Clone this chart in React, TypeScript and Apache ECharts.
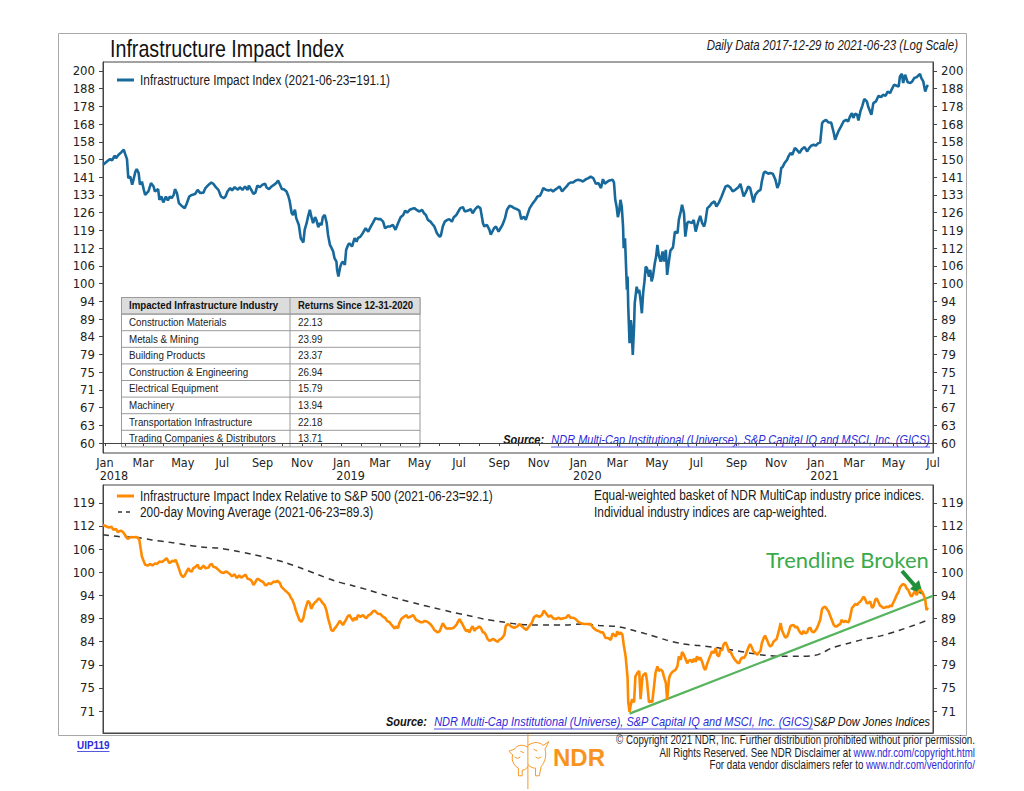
import React, { useEffect, useRef } from "react";
import * as echarts from "echarts";

// ---------- DATA ----------
const START_DATE = [2017, 11, 29]; // first data day (2017-12-29)
const END_DATE = [2021, 6, 1]; // axis end (2021-07-01)

// Infrastructure Impact Index (daily, sampled), day offsets from START_DATE
const TOP_DAYS = [0,8,11,14,18,20,24,28,32,34,37,39,42,45,47,50,52,55,57,60,63,65,70,74,78,80,85,87,90,93,97,100,103,106,109,111,114,117,121,126,129,133,137,142,146,150,155,158,163,167,170,174,178,182,186,189,192,196,199,203,208,211,215,219,223,225,228,232,235,238,242,246,250,252,256,260,264,268,270,273,276,279,283,286,288,291,293,296,298,302,305,309,311,314,316,319,321,324,327,329,332,334,337,339,342,345,347,350,352,355,357,360,361,363,366,368,370,373,375,378,380,384,388,391,393,397,401,405,409,413,416,420,424,428,432,435,439,443,447,451,455,459,463,466,469,473,476,480,485,488,492,495,498,501,505,509,511,515,519,521,524,527,531,534,538,541,545,548,551,555,558,563,567,570,574,578,582,586,588,592,596,598,603,606,610,613,616,620,623,627,630,634,638,642,645,649,652,655,658,663,667,670,674,677,679,683,687,691,694,697,701,704,708,711,715,718,721,725,729,733,737,740,745,749,752,756,760,764,768,771,774,778,781,786,788,790,792,794,796,798,800,802,803,805,807,808,809,810,812,814,815,817,819,820,823,825,827,829,831,833,835,837,839,842,844,846,848,851,853,855,857,860,863,865,868,870,873,875,879,882,886,888,891,893,896,898,901,903,908,911,914,918,921,924,927,929,932,935,939,943,946,950,954,957,960,964,968,971,975,980,983,986,988,992,995,998,1001,1003,1006,1010,1014,1016,1019,1021,1026,1029,1033,1037,1040,1043,1046,1048,1051,1055,1057,1060,1063,1067,1070,1074,1078,1082,1086,1089,1092,1096,1099,1103,1106,1109,1111,1115,1119,1123,1127,1129,1132,1134,1138,1142,1146,1149,1152,1155,1157,1160,1163,1165,1168,1171,1174,1178,1180,1185,1188,1192,1196,1200,1203,1207,1210,1214,1216,1220,1224,1227,1229,1232,1234,1237,1241,1245,1248,1251,1255,1257,1260,1262,1265,1268,1270,1272];
const TOP_VALUES = [147.6,149.7,150.3,149.7,152.0,150.8,152.5,153.6,155.0,153.0,150.3,141.4,142.1,138.4,140.6,144.4,145.6,143.7,138.4,139.8,136.1,133.9,135.4,139.1,137.6,135.4,136.4,131.8,133.2,130.7,133.2,131.5,133.2,132.5,133.9,136.4,134.7,130.4,129.3,128.3,130.1,133.2,133.9,134.3,136.1,134.7,134.9,136.9,138.4,139.4,138.8,137.3,136.1,133.2,132.5,133.2,135.4,136.9,135.9,137.3,136.1,137.3,136.1,137.6,136.1,138.0,136.4,134.3,134.9,138.0,137.3,138.4,138.8,137.3,136.4,137.6,138.4,139.4,140.3,138.4,136.4,136.4,135.4,133.2,131.1,126.2,125.5,127.6,124.2,121.5,116.4,114.8,119.6,122.2,124.6,127.6,125.1,122.2,124.6,123.5,120.6,122.2,121.5,124.6,125.5,122.2,117.7,113.9,113.0,111.5,109.1,107.9,105.1,102.8,106.2,107.4,107.9,106.8,112.1,113.9,114.5,113.3,116.4,115.1,116.4,117.0,118.5,120.2,118.9,120.9,122.2,124.2,123.8,123.8,122.8,120.2,120.9,120.9,121.5,119.6,122.2,124.6,125.5,127.3,126.4,127.6,127.9,128.3,127.3,126.9,127.6,126.2,125.5,123.5,122.8,121.5,120.9,118.3,117.0,117.3,120.9,122.8,123.5,123.8,122.8,124.6,125.5,126.9,128.3,128.7,126.9,127.3,127.9,126.2,127.9,129.0,128.3,122.2,120.9,121.5,119.6,117.7,120.2,120.9,118.9,120.2,121.5,124.2,127.6,129.3,129.0,128.3,127.9,127.3,123.8,124.8,123.5,125.9,128.3,130.4,131.8,133.2,133.5,135.4,136.9,136.1,135.8,136.1,135.4,136.1,136.9,137.6,135.4,136.4,137.6,138.8,139.4,139.4,140.3,140.6,140.3,139.8,140.9,141.4,142.1,141.4,138.8,139.1,136.9,140.9,138.8,139.8,140.3,140.6,139.4,131.8,129.0,124.6,126.9,131.8,129.0,120.9,112.7,116.4,104.0,98.5,102.8,93.3,82.9,89.3,87.5,79.8,87.5,94.3,99.5,97.5,98.5,95.3,91.3,97.5,101.2,106.2,105.6,102.8,105.1,101.2,102.8,107.4,109.7,113.9,110.3,107.9,111.5,107.9,112.1,103.4,108.5,111.8,113.0,118.9,118.3,123.5,126.9,129.7,126.2,117.0,122.2,122.8,122.2,123.5,118.9,122.8,125.1,122.2,120.9,122.8,128.3,129.0,130.4,131.1,129.0,130.7,133.2,135.4,137.6,138.0,136.9,135.4,136.1,137.3,138.8,135.4,133.2,135.4,137.6,136.9,133.2,130.7,133.9,135.4,136.1,139.8,143.7,144.4,143.4,143.7,143.4,140.6,136.9,139.1,146.1,146.5,148.4,150.0,151.6,153.3,152.5,155.8,155.0,153.3,155.3,156.3,154.1,155.8,157.0,157.5,157.0,158.3,158.6,168.9,169.8,170.7,169.2,169.2,163.6,160.0,162.7,164.4,167.0,169.8,170.7,169.8,172.6,174.5,171.7,174.1,173.6,170.3,175.4,178.6,182.6,181.2,178.2,173.5,180.2,181.2,184.5,183.7,185.1,184.5,187.1,186.1,188.1,191.2,190.6,190.1,196.4,198.1,192.3,197.5,192.7,192.3,193.3,195.4,196.0,196.9,198.1,195.4,193.3,187.1,189.5,191.1];

// Relative to S&P 500
const REL_DAYS = [0,9,13,16,20,23,27,30,33,37,39,43,47,51,54,56,58,60,63,65,69,73,76,80,83,87,91,95,98,101,103,107,110,112,115,117,120,123,126,129,132,134,137,139,143,146,148,151,155,158,163,165,168,170,174,178,182,186,189,192,196,199,203,206,210,213,216,220,223,227,229,232,234,237,239,243,247,250,252,255,259,263,266,269,273,275,278,280,283,287,290,292,295,297,300,303,306,309,311,314,316,319,321,324,327,329,332,334,337,339,342,345,347,350,352,355,357,360,363,365,368,370,373,377,380,383,386,388,391,393,397,401,403,406,409,413,416,419,421,424,428,432,435,438,442,445,447,450,452,455,457,460,464,468,470,474,478,480,483,486,490,493,496,500,503,506,509,511,514,516,519,521,524,527,529,532,534,537,541,545,547,550,552,555,557,560,563,565,568,570,573,575,578,580,583,586,588,591,593,596,598,601,603,606,609,611,614,616,619,621,624,627,629,634,639,642,646,650,653,657,661,665,669,673,677,680,683,687,691,694,698,703,706,710,714,718,721,725,729,733,737,742,747,752,756,760,764,768,771,775,779,783,786,788,791,793,796,798,801,803,806,809,810,812,814,816,819,821,824,827,829,832,834,837,839,842,845,847,850,852,855,857,860,863,865,868,870,873,875,878,880,883,886,888,891,893,896,898,901,903,906,909,911,914,916,919,921,924,927,929,932,934,937,939,942,945,947,950,952,955,957,960,963,965,968,970,973,976,978,981,983,986,988,991,993,996,998,1001,1003,1006,1009,1011,1014,1016,1019,1021,1024,1027,1029,1032,1034,1037,1039,1042,1045,1047,1050,1052,1055,1057,1060,1062,1065,1068,1070,1073,1075,1078,1080,1083,1086,1088,1091,1093,1096,1098,1101,1103,1106,1109,1111,1114,1116,1119,1121,1124,1127,1129,1132,1134,1137,1139,1142,1145,1147,1150,1152,1155,1157,1160,1163,1165,1168,1170,1173,1175,1178,1180,1183,1186,1188,1191,1193,1196,1198,1201,1203,1206,1209,1211,1214,1216,1219,1221,1224,1227,1229,1232,1234,1237,1239,1242,1245,1247,1250,1252,1255,1257,1260,1263,1265,1268,1270,1271,1272];
const REL_VALUES = [113.0,112.3,112.5,111.7,111.9,111.0,111.4,111.2,110.5,109.4,109.2,109.7,109.6,109.7,109.4,108.9,106.7,104.5,103.2,102.4,102.2,102.6,102.2,102.7,102.6,103.2,103.1,103.6,104.1,103.2,102.8,103.4,103.2,103.7,102.4,101.5,100.0,99.3,99.7,100.7,101.5,100.8,100.7,101.5,101.9,102.4,101.5,101.4,102.2,101.5,101.7,102.4,102.6,101.9,101.7,101.1,100.5,100.3,100.7,100.5,100.0,99.5,100.0,99.1,99.7,99.2,99.5,99.9,98.9,98.7,98.4,97.4,97.8,98.7,98.9,98.4,98.1,97.4,97.3,97.8,97.6,98.2,98.1,98.4,97.8,97.0,96.5,96.2,95.8,95.2,94.3,93.9,92.7,91.6,90.4,89.3,88.9,89.7,91.2,92.7,93.6,93.1,91.8,92.7,93.3,93.5,94.1,94.1,93.5,93.1,92.6,91.2,89.7,88.2,87.1,86.9,87.4,87.9,88.6,89.1,88.6,88.2,88.9,90.0,90.4,89.7,89.1,89.8,89.3,90.4,90.0,90.4,90.0,89.7,90.3,90.6,91.2,91.4,91.1,90.7,90.6,90.0,89.8,89.1,88.8,88.2,87.9,87.4,87.9,87.5,88.6,89.5,90.0,90.4,89.8,90.0,90.4,90.0,89.3,89.1,88.8,88.8,89.1,88.9,88.6,88.2,87.6,87.1,86.8,86.6,86.8,87.5,88.6,87.9,87.5,87.4,87.5,87.4,87.6,88.2,88.8,89.5,88.9,88.2,87.6,86.9,87.1,86.6,87.5,87.9,86.9,87.4,87.6,87.9,87.5,86.6,86.6,85.9,85.2,84.8,84.9,85.2,85.1,84.8,84.6,85.0,85.2,85.5,86.1,87.9,88.4,88.2,87.9,87.6,87.9,88.4,87.9,87.4,87.1,87.9,88.6,90.0,90.3,90.0,90.4,91.4,90.8,90.0,90.3,89.7,89.5,89.8,89.5,89.7,89.8,90.4,89.8,89.8,89.5,88.9,88.6,88.4,88.4,88.4,87.6,87.1,86.9,86.6,86.6,85.4,85.4,85.0,86.4,86.1,85.7,86.8,86.1,86.6,86.1,84.0,81.6,77.3,72.9,71.1,72.4,73.4,72.8,77.6,78.3,78.7,73.4,77.6,78.0,78.3,76.7,72.8,73.1,72.8,76.0,78.3,79.6,78.7,79.0,78.6,77.6,76.4,73.3,77.3,78.0,78.5,78.7,78.9,79.7,81.6,80.9,82.5,81.9,81.2,80.2,80.7,80.9,80.4,81.1,80.5,81.6,80.9,81.4,80.5,79.2,78.9,80.2,80.9,81.9,82.6,82.3,83.3,81.9,81.6,82.9,82.9,84.0,84.5,83.6,82.6,82.5,81.9,81.2,80.7,80.4,80.2,80.9,81.4,81.2,81.8,82.6,83.6,84.1,83.3,82.6,82.3,81.9,82.3,82.7,84.3,85.4,85.9,85.0,84.0,83.6,84.0,84.6,85.0,85.2,86.8,88.6,87.1,86.1,85.5,85.7,86.4,87.9,88.1,88.2,87.6,87.9,87.1,86.6,86.2,86.9,86.4,86.6,87.4,87.6,86.8,86.6,86.9,87.5,88.2,89.3,91.8,92.1,92.3,91.8,91.2,90.4,89.3,88.2,87.9,87.9,88.2,88.4,89.3,88.8,89.1,88.9,88.8,89.8,92.0,92.3,92.9,92.7,93.1,93.5,93.9,94.6,94.2,93.1,93.1,93.5,92.0,92.3,93.9,94.2,93.3,92.6,92.3,92.0,92.1,92.3,92.1,92.6,92.3,93.3,93.9,95.0,95.8,96.8,97.4,97.6,97.4,96.6,96.2,95.0,94.6,95.4,95.8,95.0,95.8,96.2,95.8,95.2,93.9,91.5,91.8,92.1];

// 200-day moving average of the relative line
const MA_DAYS = [0,24,50,75,101,127,152,178,203,229,255,280,306,332,357,383,409,434,460,486,511,537,563,588,614,639,662,688,714,739,765,791,806,821,842,868,893,919,945,970,996,1021,1047,1073,1098,1109,1124,1150,1175,1201,1227,1252,1272];
const MA_VALUES = [110.3,109.8,109.6,108.9,108.3,107.6,107.0,106.7,106.0,105.1,104.1,103.0,101.5,99.9,98.4,97.3,96.2,95.0,93.9,92.9,92.0,91.1,90.3,89.5,88.9,88.4,88.2,88.2,88.2,88.4,88.1,87.9,87.5,86.9,86.1,85.0,84.2,83.8,83.4,82.9,82.3,81.8,81.6,81.6,81.8,82.3,83.3,84.3,85.2,85.9,87.0,88.2,89.3];

// Green trendline (from the March 2020 low to the right edge)
const TREND_DAYS = [812, 1280];
const TREND_VALUES = [70.8, 94.8];

// Axis tick labels (log scale, evenly spaced)
const LOG_TICKS = [60,63,67,71,75,79,84,89,94,100,106,112,119,126,133,141,150,158,168,178,188,200];
const REL_TICKS = [71,75,79,84,89,94,100,106,112,119];
const MONTHS = ["Jan","Feb","Mar","Apr","May","Jun","Jul","Aug","Sep","Oct","Nov","Dec"];

// Table
const TABLE_HEADER = ["Impacted Infrastructure Industry", "Returns Since 12-31-2020"];
const TABLE_INDUSTRIES = ["Construction Materials","Metals & Mining","Building Products","Construction & Engineering","Electrical Equipment","Machinery","Transportation Infrastructure","Trading Companies & Distributors"];
const TABLE_RETURNS = [22.13, 23.99, 23.37, 26.94, 15.79, 13.94, 22.18, 13.71];

// ---------- STYLE ----------
const NARROW = "'Liberation Sans Narrow','Arial Narrow','DejaVu Sans Condensed',sans-serif";
const SANS = "'Liberation Sans',Arial,sans-serif";
const CONDENSE = 0.82; // horizontal squeeze for the condensed Helvetica look
const BLUE = "#17699b";
const ORANGE = "#ff8a00";
const GREEN = "#55b45d";
const LINK = "#2b2bd9";

const DAY = 86400000;
const START = new Date(START_DATE[0], START_DATE[1], START_DATE[2]).getTime();
const END = new Date(END_DATE[0], END_DATE[1], END_DATE[2]).getTime();
const toTime = (d: number) => START + d * DAY;
const LOG_STEP = Math.log(LOG_TICKS[LOG_TICKS.length - 1] / LOG_TICKS[0]) / (LOG_TICKS.length - 1);
const toK = (v: number) => Math.log(v / LOG_TICKS[0]) / LOG_STEP;
const tickPos = (label: number) => LOG_TICKS.indexOf(label);

const fnt = (size: number, weight = "normal", style = "normal", family = SANS) => `${style} ${weight} ${size}px ${family}`;

function measure(text: string, font: string) {
  const c = document.createElement("canvas").getContext("2d")!;
  c.font = font;
  return c.measureText(text).width;
}

function monthValues(step: number) {
  const out: number[] = [];
  for (let y = 2018; y <= 2021; y++) {
    for (let m = 0; m < 12; m += step) {
      const t = new Date(y, m, 1).getTime();
      if (t <= END) out.push(t);
    }
  }
  return out;
}

function txt(x: number, y: number, text: string, o: any = {}) {
  return {
    type: "text",
    silent: true,
    x, y,
    scaleX: o.sx ?? CONDENSE,
    style: {
      x: 0, y: 0, text,
      fill: o.fill || "#1a1a1a",
      font: o.font || fnt(13),
      align: o.align || "left",
      verticalAlign: "middle",
      rich: o.rich,
    },
  };
}
function ln(x1: number, y1: number, x2: number, y2: number, stroke: string, lineWidth = 1, lineDash?: number[]) {
  return { type: "line", silent: true, shape: { x1, y1, x2, y2 }, style: { stroke, lineWidth, lineDash } };
}

function yAxis(gridIndex: number, position: string, min: number, max: number, labels: number[]) {
  const vals = labels.map(tickPos);
  return {
    type: "value", gridIndex, position, min, max,
    axisLine: { show: true, lineStyle: { color: "#444", width: 1 } },
    axisTick: { show: true, customValues: vals, length: 4, lineStyle: { color: "#444" } },
    axisLabel: {
      customValues: vals,
      formatter: (v: number) => String(LOG_TICKS[Math.round(v)]),
      color: "#222", fontFamily: NARROW, fontSize: 13, margin: 8,
    },
    splitLine: { show: false },
  };
}

export default function App() {
  const ref = useRef<HTMLDivElement>(null);
  useEffect(() => {
    const logoPath =
      "M22 0 L22 58 M22 12 C28 8 34 8 38 12 L44 8 L40 16 C42 22 40 30 36 34 L34 44 L30 44 L30 36 C26 36 24 34 22 32 " +
      "M22 14 C16 10 10 12 8 16 L2 18 L6 22 C4 28 8 34 12 36 L12 44 L16 44 L16 38 C19 38 21 36 22 34 " +
      "M28 16 L32 18 M14 18 L18 20 M30 24 C32 26 34 26 36 24 M8 24 C10 26 12 26 14 24";
    echarts.graphic.registerShape("ndrLogo", echarts.graphic.extendPath(logoPath, {}));

    const chart = echarts.init(ref.current!, null, { renderer: "svg" });

    const topData = TOP_DAYS.map((d, i) => [toTime(d), toK(TOP_VALUES[i])]);
    const relData = REL_DAYS.map((d, i) => [toTime(d), toK(REL_VALUES[i])]);
    const maData = MA_DAYS.map((d, i) => [toTime(d), toK(MA_VALUES[i])]);
    const trendData = TREND_DAYS.map((d, i) => [toTime(d), toK(TREND_VALUES[i])]);

    const g: any[] = [];
    g.push({ type: "rect", silent: true, shape: { x: 58.5, y: 33.5, width: 908, height: 702 }, style: { fill: "none", stroke: "#a8a8a8", lineWidth: 1 } });
    g.push(txt(110, 49, "Infrastructure Impact Index", { font: fnt(24), fill: "#111" }));
    g.push(txt(958, 45, "Daily Data 2017-12-29 to 2021-06-23 (Log Scale)", { font: fnt(14, "normal", "italic"), align: "right" }));

    g.push(ln(117, 80, 134, 80, BLUE, 3));
    g.push(txt(140, 80, "Infrastructure Impact Index (2021-06-23=191.1)", { font: fnt(14.5) }));

    // table
    const tx0 = 121.5, tx1 = 290, tx2 = 420, ty0 = 297.5, rh = 16.6;
    const nRows = TABLE_INDUSTRIES.length + 1;
    g.push({ type: "rect", silent: true, shape: { x: tx0, y: ty0, width: tx2 - tx0, height: rh * nRows }, style: { fill: "#fff", stroke: "#9a9a9a", lineWidth: 1 } });
    g.push({ type: "rect", silent: true, shape: { x: tx0, y: ty0, width: tx2 - tx0, height: rh }, style: { fill: "#dcdcdc", stroke: "#9a9a9a", lineWidth: 1 } });
    for (let r = 1; r < nRows; r++) g.push(ln(tx0, ty0 + r * rh, tx2, ty0 + r * rh, "#9a9a9a", 1));
    g.push(ln(tx1, ty0, tx1, ty0 + rh * nRows, "#9a9a9a", 1));
    g.push(txt(tx0 + 7.5, ty0 + rh / 2, TABLE_HEADER[0], { font: fnt(10, "bold"), fill: "#111", sx: 0.97 }));
    g.push(txt(tx1 + 8, ty0 + rh / 2, TABLE_HEADER[1], { font: fnt(10, "bold"), fill: "#111", sx: 0.95 }));
    TABLE_INDUSTRIES.forEach((name, i) => {
      const cy = ty0 + (i + 1.5) * rh;
      g.push(txt(tx0 + 7.5, cy, name, { font: fnt(10), fill: "#222", sx: 0.98 }));
      g.push(txt(tx1 + 8, cy, TABLE_RETURNS[i].toFixed(2), { font: fnt(10), fill: "#222", sx: 0.98 }));
    });

    // source lines
    const srcLink = "NDR Multi-Cap Institutional (Universe), S&P Capital IQ and MSCI, Inc. (GICS)";
    const linkFont = fnt(13.4, "normal", "italic");
    const srcFont = fnt(13.4, "bold", "italic");
    const lw = measure(srcLink, linkFont) * CONDENSE;
    const srcY1 = 440;
    g.push(txt(930, srcY1, srcLink, { font: linkFont, fill: LINK, align: "right" }));
    g.push(ln(930 - lw, srcY1 + 7, 930, srcY1 + 7, LINK, 0.8));
    g.push(txt(930 - lw - 7, srcY1, "Source:", { font: srcFont, align: "right", fill: "#111" }));

    const srcY2 = 722;
    const spdj = "S&P Dow Jones Indices";
    const sw = measure(spdj, linkFont) * CONDENSE;
    g.push(txt(930, srcY2, spdj, { font: linkFont, align: "right", fill: "#111" }));
    g.push(txt(930 - sw, srcY2, srcLink, { font: linkFont, fill: LINK, align: "right" }));
    g.push(ln(930 - sw - lw, srcY2 + 7, 930 - sw, srcY2 + 7, LINK, 0.8));
    g.push(txt(930 - sw - lw - 7, srcY2, "Source:", { font: srcFont, align: "right", fill: "#111" }));

    // bottom legend & notes
    g.push(ln(117, 496, 134, 496, ORANGE, 3));
    g.push(txt(140, 496, "Infrastructure Impact Index Relative to S&P 500 (2021-06-23=92.1)", { font: fnt(14.5) }));
    g.push(ln(118, 512, 134, 512, "#333", 1.5, [4, 4]));
    g.push(txt(140, 512, "200-day Moving Average (2021-06-23=89.3)", { font: fnt(14.5) }));
    g.push(txt(594, 495, "Equal-weighted basket of NDR MultiCap industry price indices.", { font: fnt(14.5) }));
    g.push(txt(594, 512, "Individual industry indices are cap-weighted.", { font: fnt(14.5) }));

    // annotation
    g.push(txt(766, 559, "Trendline Broken", { font: `22px Lato, 'Open Sans', sans-serif`, fill: "#3aaa4a", sx: 1 }));
    g.push(ln(902, 571, 916, 587, "#1f8f3a", 4));
    g.push({ type: "polygon", silent: true, shape: { points: [[923, 595], [910, 589], [919, 580]] }, style: { fill: "#1f8f3a" } });

    // footer
    const uip = "UIP119";
    const uf = fnt(11, "bold");
    g.push(txt(77, 745, uip, { font: uf, fill: LINK, sx: 0.9 }));
    g.push(ln(77, 751.5, 77 + measure(uip, uf) * 0.9, 751.5, LINK, 0.8));
    g.push({ type: "ndrLogo", silent: true, x: 507, y: 734, scaleX: 0.95, scaleY: 0.95, style: { fill: "none", stroke: "#f7941d", lineWidth: 1 } });
    g.push(txt(553, 757, "NDR", { font: fnt(24, "bold"), fill: "#f7941d", sx: 1 }));
    const cf = fnt(11.9);
    g.push(txt(975, 740, "© Copyright 2021 NDR, Inc. Further distribution prohibited without prior permission.", { font: cf, align: "right" }));
    g.push(txt(975, 752.5, "{a|All Rights Reserved. See NDR Disclaimer at }{b|www.ndr.com/copyright.html}", {
      font: cf, align: "right",
      rich: { a: { fill: "#1a1a1a", font: cf }, b: { fill: LINK, font: cf } },
    }));
    g.push(txt(975, 765, "{a|For data vendor disclaimers refer to }{b|www.ndr.com/vendorinfo/}", {
      font: cf, align: "right",
      rich: { a: { fill: "#1a1a1a", font: cf }, b: { fill: LINK, font: cf } },
    }));

    const labelMonths = monthValues(2);
    const allMonths = monthValues(1);

    const option: any = {
      animation: false,
      backgroundColor: "#fff",
      grid: [
        { left: 103, top: 62, width: 830, height: 391, show: true, borderColor: "#444", borderWidth: 1, backgroundColor: "transparent" },
        { left: 103, top: 485, width: 830, height: 248, show: true, borderColor: "#444", borderWidth: 1, backgroundColor: "transparent" },
      ],
      xAxis: [
        {
          type: "value", gridIndex: 0, min: START, max: END, scale: true,
          axisLine: { show: true, lineStyle: { color: "#444" } },
          axisTick: { show: true, customValues: allMonths, length: 3, lineStyle: { color: "#444" } },
          axisLabel: {
            customValues: labelMonths,
            margin: 3,
            color: "#222", fontFamily: NARROW, fontSize: 12.5, lineHeight: 13,
            formatter: (v: number) => {
              const dt = new Date(v);
              const m = dt.getMonth();
              return m === 0 ? `{m|${MONTHS[m]}}\n{y|${dt.getFullYear()}}` : `{m|${MONTHS[m]}}`;
            },
            rich: {
              m: { fontFamily: NARROW, fontSize: 12.5, color: "#222", lineHeight: 13 },
              y: { fontFamily: NARROW, fontSize: 12.5, color: "#222", lineHeight: 13, padding: [0, 0, 0, 18] },
            },
          },
          splitLine: { show: false },
        },
        {
          type: "value", gridIndex: 1, min: START, max: END, scale: true,
          axisLine: { show: true, lineStyle: { color: "#444" } },
          axisTick: { show: false }, axisLabel: { show: false }, splitLine: { show: false },
        },
      ],
      yAxis: [
        yAxis(0, "left", -0.56, 21.5, LOG_TICKS),
        yAxis(0, "right", -0.56, 21.5, LOG_TICKS),
        yAxis(1, "left", 2.05, 12.77, REL_TICKS),
        yAxis(1, "right", 2.05, 12.77, REL_TICKS),
      ],
      series: [
        {
          type: "line", name: "Infrastructure Impact Index", xAxisIndex: 0, yAxisIndex: 0,
          data: topData, showSymbol: false, symbol: "none",
          lineStyle: { color: BLUE, width: 2.6 }, z: 3,
        },
        {
          type: "line", name: "200-day Moving Average", xAxisIndex: 1, yAxisIndex: 2,
          data: maData, showSymbol: false, symbol: "none", smooth: 0.3,
          lineStyle: { color: "#333", width: 1.5, type: [6, 5] }, z: 2,
        },
        {
          type: "line", name: "Trendline", xAxisIndex: 1, yAxisIndex: 2,
          data: trendData, showSymbol: false, symbol: "none",
          lineStyle: { color: GREEN, width: 2.2 }, z: 2,
        },
        {
          type: "line", name: "Relative to S&P 500", xAxisIndex: 1, yAxisIndex: 2,
          data: relData, showSymbol: false, symbol: "none",
          lineStyle: { color: ORANGE, width: 2.6 }, z: 3,
        },
      ],
      graphic: g,
    };
    chart.setOption(option);
    return () => chart.dispose();
  }, []);
  return <div ref={ref} style={{ position: "absolute", left: 0, top: 0, width: 1024, height: 791 }} />;
}
